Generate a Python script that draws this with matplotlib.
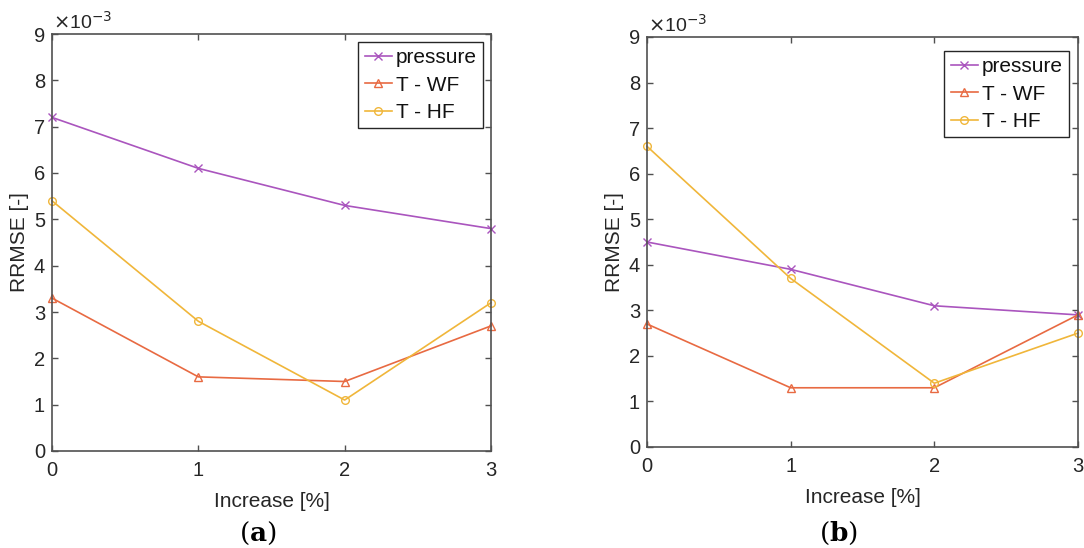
import matplotlib
matplotlib.use("Agg")
import matplotlib.pyplot as plt

plt.rcParams['font.family'] = ['Liberation Sans', 'DejaVu Sans']
plt.rcParams['mathtext.fontset'] = 'dejavuserif'

# data (values in units of 1e-3)
increase = [0, 1, 2, 3]
a_pressure = [7.2, 6.1, 5.3, 4.8]
a_t_wf = [3.3, 1.6, 1.5, 2.7]
a_t_hf = [5.4, 2.8, 1.1, 3.2]
b_pressure = [4.5, 3.9, 3.1, 2.9]
b_t_wf = [2.7, 1.3, 1.3, 2.9]
b_t_hf = [6.6, 3.7, 1.4, 2.5]

series_names = ['pressure', 'T - WF', 'T - HF']
colors = ['#AA55BE', '#E86A42', '#F0B63A']
markers = ['x', '^', 'o']

text_gray = '#262626'
axis_gray = '#505050'

fig = plt.figure(figsize=(10.84, 5.48), dpi=100)
W, H = 1084, 548

# pixel layout per panel: axes box (left, top, right, bottom),
# legend upper-right corner, caption centre x
panels = [
    dict(tag='a', data=[a_pressure, a_t_wf, a_t_hf],
         box=(52, 34, 491, 451), leg=(483, 42), cap_x=258),
    dict(tag='b', data=[b_pressure, b_t_wf, b_t_hf],
         box=(647, 37, 1078, 447), leg=(1069, 51), cap_x=838),
]

for p in panels:
    l, t, r, b = p['box']
    ax = fig.add_axes([l / W, 1 - b / H, (r - l) / W, (b - t) / H])
    for vals, name, c, m in zip(p['data'], series_names, colors, markers):
        ax.plot(increase, [v * 1e-3 for v in vals], color=c, marker=m,
                markersize=5.5, markerfacecolor='none', markeredgewidth=1.0,
                linewidth=1.2, label=name, clip_on=False)

    ax.set_xlim(0, 3)
    ax.set_ylim(0, 9e-3)
    ax.set_xticks(increase)
    ax.set_yticks([i * 1e-3 for i in range(10)])
    ax.set_yticklabels([str(i) for i in range(10)])
    ax.tick_params(direction='in', top=True, right=True, labelsize=14.5,
                   labelcolor=text_gray, color=axis_gray, length=4, width=1)
    ax.tick_params(axis='x', pad=7)
    ax.tick_params(axis='y', pad=5)
    for sp in ax.spines.values():
        sp.set_color(axis_gray)
        sp.set_linewidth(1.2)

    ax.set_xlabel('Increase [%]', fontsize=15, color=text_gray)
    ax.xaxis.set_label_coords(0.5, -41 / (b - t))
    ax.set_ylabel('RRMSE [-]', fontsize=15, color=text_gray)
    ax.yaxis.set_label_coords(-32 / (r - l), 0.5)
    ax.yaxis.label.set_verticalalignment('center')

    ax.text(0.003, 1.004, r'$\times$10$^{-3}$', transform=ax.transAxes,
            fontsize=14, color=text_gray, va='bottom', ha='left',
            math_fontfamily='dejavusans')

    lx, ly = p['leg']
    leg = ax.legend(loc='upper right',
                    bbox_to_anchor=((lx - l) / (r - l), (b - ly) / (b - t)),
                    fontsize=15, handlelength=1.3, handletextpad=0.2,
                    borderpad=0.3, labelspacing=0.4, borderaxespad=0,
                    fancybox=False, framealpha=1)
    leg.get_frame().set_edgecolor(text_gray)
    leg.get_frame().set_linewidth(1.0)
    for txt in leg.get_texts():
        txt.set_color('#111111')

    fig.text(p['cap_x'] / W, 1 - 541 / H,
             '(' + r'$\mathbf{' + p['tag'] + '}$' + ')',
             fontsize=19, ha='center', va='baseline', family='DejaVu Serif')

fig.savefig('out.png', dpi=100)
